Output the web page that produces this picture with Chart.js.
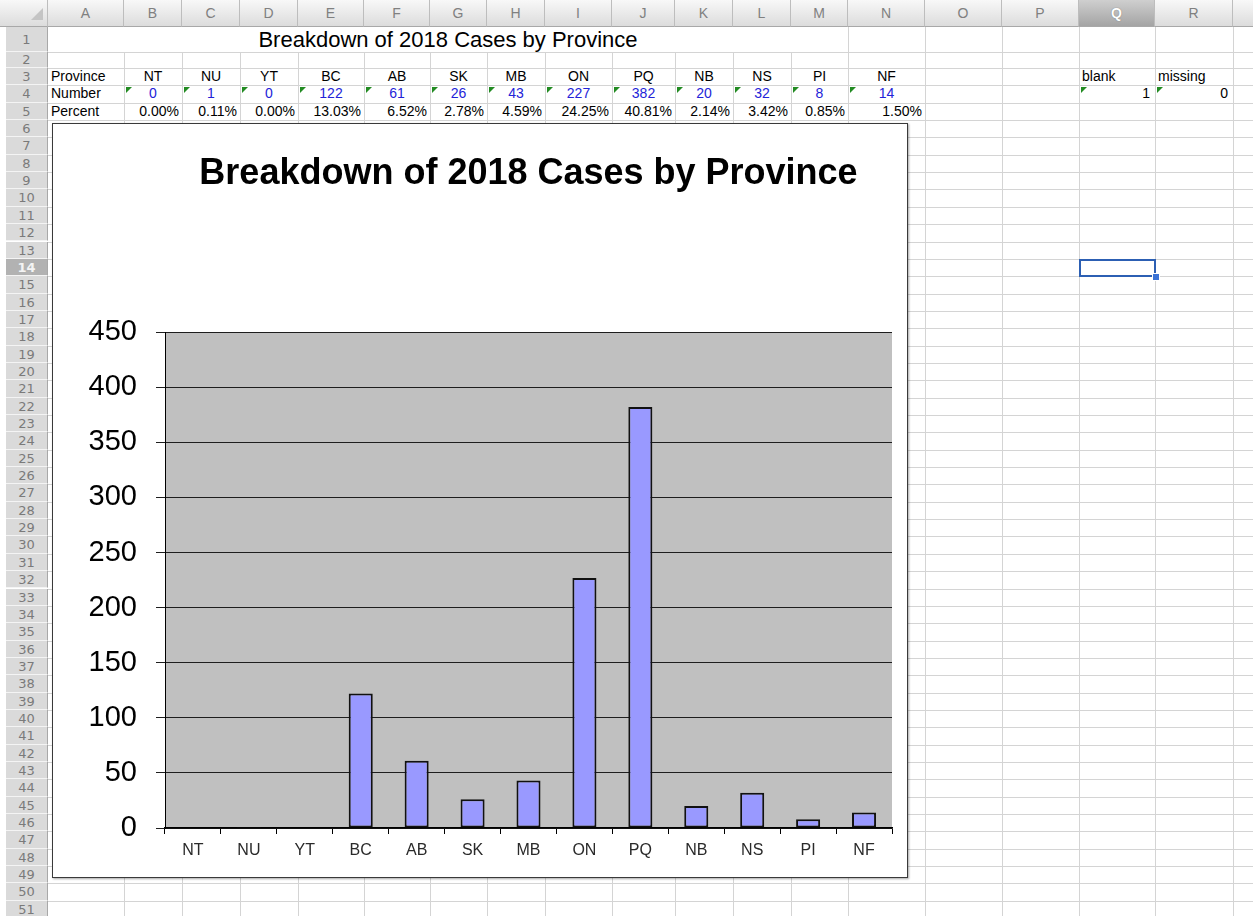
<!DOCTYPE html>
<html>
<head>
<meta charset="utf-8">
<script src="https://cdn.jsdelivr.net/npm/chart.js@4.4.1/dist/chart.umd.min.js"></script>
<style>
  body { margin: 0; width: 1253px; height: 916px; overflow: hidden; background: #fff; position: relative;
         font-family: "Liberation Sans", Arial, sans-serif; }
  .vline { position: absolute; width: 1px; background: #d4d4d4; }
  .hline { position: absolute; height: 1px; background: #d4d4d4; }
  .colhead { position: absolute; top: 0; height: 27px; box-sizing: border-box; text-align: center;
             background: linear-gradient(#f8f8f8, #dcdcdc); border-right: 1px solid #bdbdbd; border-bottom: 1px solid #a8a8a8;
             color: #808080; font-size: 14px; line-height: 27px; }
  .colhead.sel { background: linear-gradient(#cfcfcf, #a4a4a4); color: #fff; text-shadow: 0 0 1px #666; font-weight: bold; }
  .rowhead { position: absolute; left: 6px; width: 42px; box-sizing: border-box; text-align: center;
             background: #dadada; border-bottom: 1px solid #f4f4f4; border-right: 1px solid #a8a8a8;
             color: #7a7a7a; font-family: "DejaVu Sans", sans-serif; font-size: 13px; }
  .rowhead.sel { background: #b2b2b2; color: #f4f4f4; font-weight: bold; }
  .cell { position: absolute; font-size: 14px; white-space: nowrap; color: #000; }
  .tri { position: absolute; width: 0; height: 0; border-top: 6px solid #228b22; border-right: 6px solid transparent; }
  #frame { position: absolute; left: 52px; top: 123px; width: 854px; height: 753px; background: #fff;
           border: 1px solid #3a3a3a; box-shadow: 1px 1px 2px rgba(0,0,0,0.35); }
  #selbox { position: absolute; border: 2px solid #2c5fb3; box-sizing: border-box; }
  #handle { position: absolute; width: 6px; height: 6px; background: #3b73d6; border: 1px solid #fff; }
</style>
</head>
<body>
<div id="sheet"></div>
<div id="frame"><canvas id="chart" width="854" height="753"></canvas></div>

<script>
// Data
const chartTitle = 'Breakdown of 2018 Cases by Province';
const provinces = ['NT', 'NU', 'YT', 'BC', 'AB', 'SK', 'MB', 'ON', 'PQ', 'NB', 'NS', 'PI', 'NF'];
const cases = [0, 1, 0, 122, 61, 26, 43, 227, 382, 20, 32, 8, 14];
const percentLabels = ['0.00%', '0.11%', '0.00%', '13.03%', '6.52%', '2.78%', '4.59%', '24.25%', '40.81%', '2.14%', '3.42%', '0.85%', '1.50%'];
const extraHeaders = ['blank', 'missing'];
const extraValues = [1, 0];
const yMax = 450;
const yStep = 50;

const fontFamily = '"Liberation Sans", Arial, sans-serif';

// Sheet geometry
const colLetters = ['A','B','C','D','E','F','G','H','I','J','K','L','M','N','O','P','Q','R','S'];
const colEdges = [48, 124, 182, 240, 298, 364, 430, 487, 545, 612, 675, 733, 791, 848, 925, 1002, 1079, 1155, 1233, 1310];
const rowCount = 51;
function rowTop(r) {
    if (r === 1) return 27;
    if (r === 2) return 52;
    return 68 + (r - 3) * 17.35;
}
function rowBottom(r) { return rowTop(r + 1); }

const sheet = document.getElementById('sheet');
function add(cls, style, text) {
    const d = document.createElement('div');
    d.className = cls;
    Object.assign(d.style, style);
    if (text !== undefined) d.textContent = text;
    sheet.appendChild(d);
    return d;
}

// grid lines
for (let r = 1; r <= rowCount; r++) {
    add('hline', { left: '48px', top: Math.round(rowBottom(r)) + 'px', width: '1205px' });
}
colEdges.forEach((x, i) => {
    if (i === 0) return;
    // merged A1:M1 has no inner lines in row 1
    const top = (i >= 1 && i <= 12) ? rowTop(2) : 27;
    add('vline', { left: x + 'px', top: Math.round(top) + 'px', height: '916px' });
});

// column headers
add('colhead', { left: '0px', width: '48px', background: 'linear-gradient(#f8f8f8, #dcdcdc)' });
add('', { position: 'absolute', left: '31px', top: '8px', width: 0, height: 0,
          borderLeft: '12px solid transparent', borderBottom: '12px solid #c4c4c4' });
for (let i = 0; i < colLetters.length; i++) {
    const c = add('colhead', { left: colEdges[i] + 'px', width: (colEdges[i + 1] - colEdges[i]) + 'px' }, colLetters[i]);
    if (colLetters[i] === 'Q') c.classList.add('sel');
}

// row headers
for (let r = 1; r <= rowCount; r++) {
    const t = rowTop(r), h = rowBottom(r) - t;
    const d = add('rowhead', { top: t + 'px', height: h + 'px', lineHeight: h + 'px' }, String(r));
    if (r === 14) d.classList.add('sel');
}

function cell(col, row, text, align, extra) {
    const ci = colLetters.indexOf(col);
    const left = colEdges[ci], w = colEdges[ci + 1] - left;
    const t = rowTop(row), h = rowBottom(row) - t;
    const style = { left: left + 'px', width: (w - 6) + 'px', top: t + 'px', height: h + 'px', lineHeight: h + 'px',
                    textAlign: align, padding: '0 3px' };
    Object.assign(style, extra || {});
    return add('cell', style, text);
}
function flag(col, row) {
    const ci = colLetters.indexOf(col);
    add('tri', { left: (colEdges[ci] + 2) + 'px', top: (rowTop(row) + 2) + 'px' });
}

// row 1 merged title A1:M1
add('cell', { left: colEdges[0] + 'px', width: (colEdges[13] - colEdges[0]) + 'px', top: rowTop(1) + 'px',
              height: '25px', lineHeight: '25px', textAlign: 'center', fontSize: '22px' }, chartTitle);

cell('A', 3, 'Province', 'left');
cell('A', 4, 'Number', 'left');
cell('A', 5, 'Percent', 'left');
provinces.forEach((p, i) => {
    const col = colLetters[i + 1];
    cell(col, 3, p, 'center');
    cell(col, 4, String(cases[i]), 'center', { color: '#2323d8' });
    cell(col, 5, percentLabels[i], 'right');
    flag(col, 4);
});
extraHeaders.forEach((t, i) => {
    const col = ['Q', 'R'][i];
    cell(col, 3, t, 'left');
    cell(col, 4, String(extraValues[i]), 'right', { paddingRight: '5px', width: (colEdges[17 + i] - colEdges[16 + i] - 8) + 'px' });
    flag(col, 4);
});

// selected cell Q14
const qi = colLetters.indexOf('Q');
const sel = document.createElement('div');
sel.id = 'selbox';
Object.assign(sel.style, { left: colEdges[qi] + 'px', top: Math.round(rowTop(14)) + 'px',
    width: (colEdges[qi + 1] - colEdges[qi] + 1) + 'px', height: Math.round(rowBottom(14) - rowTop(14) + 1) + 'px' });
sheet.appendChild(sel);
const handle = document.createElement('div');
handle.id = 'handle';
Object.assign(handle.style, { left: (colEdges[qi + 1] - 3) + 'px', top: Math.round(rowBottom(14) - 3) + 'px' });
sheet.appendChild(handle);

// Plot area fill
const plotBackground = {
    id: 'plotBackground',
    beforeDraw(chart) {
        const { ctx, chartArea: a } = chart;
        ctx.save();
        ctx.fillStyle = '#c0c0c0';
        ctx.fillRect(a.left, a.top, a.right - a.left, a.bottom - a.top);
        ctx.restore();
    }
};

new Chart(document.getElementById('chart'), {
    type: 'bar',
    data: {
        labels: provinces,
        datasets: [{
            data: cases,
            backgroundColor: '#9999ff',
            borderColor: '#111',
            borderWidth: 2,
            borderSkipped: false,
            categoryPercentage: 1,
            barPercentage: 0.43
        }]
    },
    options: {
        responsive: false,
        animation: false,
        layout: { padding: { left: 0, right: 15, top: 0, bottom: 0 } },
        plugins: {
            legend: { display: false },
            tooltip: { enabled: false },
            title: {
                display: true,
                text: chartTitle,
                fullSize: false,
                color: '#000',
                font: { family: fontFamily, size: 36, weight: 'bold' },
                padding: { top: 28, bottom: 137 }
            }
        },
        scales: {
            x: {
                afterFit: function(scale) { scale.height = 49; },
                grid: { display: true, drawOnChartArea: false, drawTicks: true, tickLength: 6, color: '#000', offset: true },
                border: { display: true, color: '#000', width: 1.5 },
                ticks: { color: '#2a2a2a', font: { family: fontFamily, size: 16 }, padding: 7, autoSkip: false, maxRotation: 0 }
            },
            y: {
                min: 0,
                max: yMax,
                afterFit: function(scale) { scale.width = 112; },
                ticks: { stepSize: yStep, color: '#000', font: { family: fontFamily, size: 29 }, padding: 19 },
                grid: { color: '#1e1e1e', lineWidth: 1, tickLength: 9 },
                border: { display: true, color: '#000', width: 1 }
            }
        }
    },
    plugins: [plotBackground]
});
</script>
</body>
</html>
